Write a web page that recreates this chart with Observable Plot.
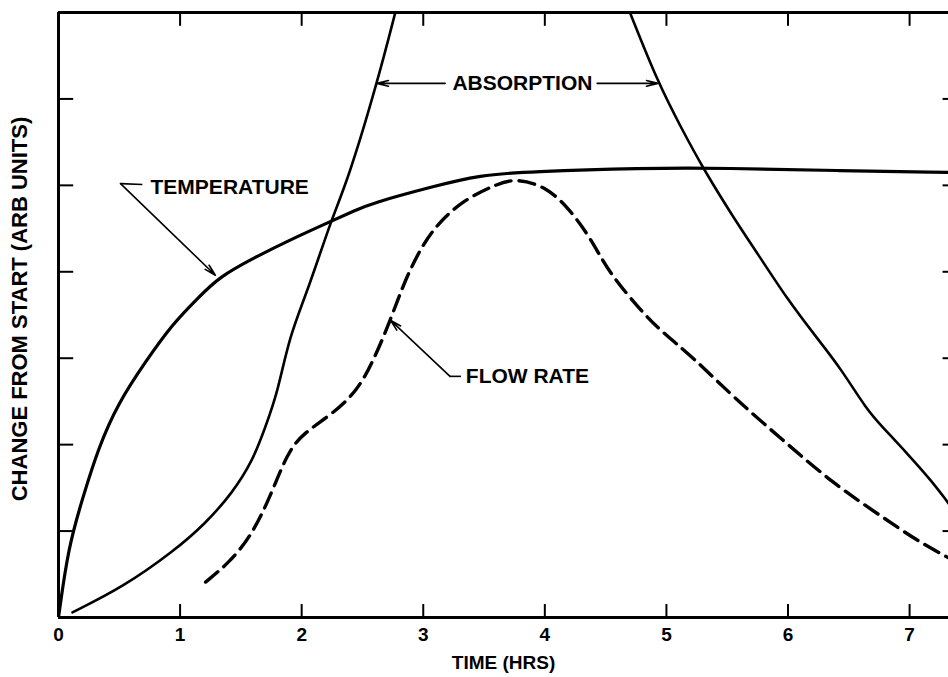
<!DOCTYPE html>
<html>
<head>
<meta charset="utf-8">
<script src="https://cdn.jsdelivr.net/npm/d3@7"></script>
<script src="https://cdn.jsdelivr.net/npm/@observablehq/plot@0.6"></script>
<style>
  html, body { margin: 0; padding: 0; background: #fff; }
  #chart svg { display: block; }
</style>
</head>
<body>
<div id="chart"></div>
<script>
// ---- data ----
const xTicks = [0, 1, 2, 3, 4, 5, 6, 7];
const yTicks = [1, 2, 3, 4, 5, 6];

const tempX = [0, 0.08, 0.20, 0.33, 0.49, 0.72, 0.94, 1.15, 1.32, 1.62, 1.89, 2.25, 2.44, 2.57, 3.06, 3.47, 3.88, 4.79, 5.5, 6.4, 7.32];
const tempY = [0, 0.81, 1.39, 1.97, 2.48, 2.97, 3.40, 3.70, 3.94, 4.17, 4.36, 4.59, 4.71, 4.79, 4.98, 5.12, 5.16, 5.20, 5.20, 5.17, 5.15];

const absRiseX = [0.115, 0.53, 0.96, 1.21, 1.43, 1.60, 1.70, 1.80, 1.90, 2.05, 2.25, 2.38, 2.62, 2.77];
const absRiseY = [0.06, 0.35, 0.78, 1.09, 1.44, 1.82, 2.20, 2.59, 3.26, 3.78, 4.63, 5.06, 6.18, 7.0];

const absFallX = [4.70, 4.93, 5.12, 5.30, 5.55, 5.75, 6.00, 6.24, 6.43, 6.65, 6.78, 6.98, 7.20, 7.32];
const absFallY = [7.0, 6.19, 5.67, 5.20, 4.63, 4.21, 3.67, 3.23, 2.89, 2.40, 2.20, 1.90, 1.55, 1.32];

const flowX = [1.21, 1.40, 1.58, 1.74, 1.88, 2.01, 2.26, 2.46, 2.59, 2.73, 2.84, 2.98, 3.12, 3.33, 3.61, 3.77, 4.02, 4.21, 4.35, 4.46, 4.56, 4.79, 4.95, 5.22, 5.55, 5.96, 6.37, 6.78, 7.06, 7.32];
const flowY = [0.41, 0.63, 0.93, 1.39, 1.90, 2.13, 2.36, 2.63, 2.97, 3.44, 3.87, 4.28, 4.56, 4.83, 5.02, 5.08, 4.98, 4.71, 4.44, 4.17, 3.94, 3.55, 3.32, 3.01, 2.55, 2.05, 1.55, 1.16, 0.89, 0.69];

const labelText = ["TEMPERATURE", "ABSORPTION", "FLOW RATE"];
const labelX = [0.757, 3.24, 3.35];
const labelY = [4.98, 6.18, 2.79];

// leader segments without heads
const leadX1 = [0.69, 3.31];
const leadY1 = [5.01, 2.79];
const leadX2 = [0.51, 3.22];
const leadY2 = [5.02, 2.79];

// arrows (head at x2,y2)
const arrX1 = [0.51, 3.18, 4.43, 3.22];
const arrY1 = [5.02, 6.18, 6.18, 2.79];
const arrX2 = [1.29, 2.62, 4.93, 2.73];
const arrY2 = [3.96, 6.18, 6.18, 3.44];

const xLabel = "TIME (HRS)";
const yLabel = "CHANGE FROM START (ARB UNITS)";

// ---- build tables ----
const zipXY = (xs, ys) => xs.map((x, i) => ({x, y: ys[i]}));
const temperature = zipXY(tempX, tempY);
const absRise = zipXY(absRiseX, absRiseY);
const absFall = zipXY(absFallX, absFallY);
const flow = zipXY(flowX, flowY);
const labels = labelText.map((t, i) => ({t, x: labelX[i], y: labelY[i]}));
const leads = leadX1.map((x1, i) => ({x1, y1: leadY1[i], x2: leadX2[i], y2: leadY2[i]}));
const arrows = arrX1.map((x1, i) => ({x1, y1: arrY1[i], x2: arrX2[i], y2: arrY2[i]}));

const font = "'Liberation Sans', Arial, Helvetica, sans-serif";

const chart = Plot.plot({
  width: 948,
  height: 677,
  marginLeft: 58,
  marginRight: 0,
  marginTop: 12,
  marginBottom: 60,
  style: {fontFamily: font, fontWeight: "bold", fontSize: "19px", color: "black", background: "white"},
  x: {domain: [0, 7.32], axis: null},
  y: {domain: [0, 7], axis: null},
  marks: [
    // frame lines
    Plot.ruleY([0, 7], {stroke: "black", strokeWidth: 3}),
    Plot.ruleX([0], {stroke: "black", strokeWidth: 3}),
    // inward ticks
    Plot.ruleX(xTicks, {y1: 0, y2: 0.15, stroke: "black", strokeWidth: 2}),
    Plot.ruleX(xTicks, {y1: 7, y2: 6.84, stroke: "black", strokeWidth: 2}),
    Plot.ruleY(yTicks, {x1: 0, x2: 0.125, stroke: "black", strokeWidth: 2}),
    Plot.ruleY(yTicks, {x1: 7.32, x2: 7.275, stroke: "black", strokeWidth: 2}),
    // tick labels
    Plot.axisX({ticks: xTicks, tickSize: 0, tickPadding: 10, tickFormat: d => String(d), label: null,
      fontSize: 19, fontWeight: "bold"}),
    // curves
    Plot.line(temperature, {x: "x", y: "y", curve: "basis", stroke: "black", strokeWidth: 3.2, clip: true}),
    Plot.line(absRise, {x: "x", y: "y", curve: "basis", stroke: "black", strokeWidth: 2.6, clip: true}),
    Plot.line(absFall, {x: "x", y: "y", curve: "basis", stroke: "black", strokeWidth: 2.6, clip: true}),
    Plot.line(flow, {x: "x", y: "y", curve: "basis", stroke: "black", strokeWidth: 3.4,
      strokeDasharray: "16,8", clip: true}),
    // annotations
    Plot.link(leads, {x1: "x1", y1: "y1", x2: "x2", y2: "y2", stroke: "black", strokeWidth: 1.6}),
    Plot.arrow(arrows, {x1: "x1", y1: "y1", x2: "x2", y2: "y2", stroke: "black", strokeWidth: 1.6,
      headLength: 11, headAngle: 28}),
    Plot.text(labels, {x: "x", y: "y", text: "t", textAnchor: "start", fontSize: 21, fontWeight: "bold",
      fill: "black", lineAnchor: "middle"}),
    // axis titles
    Plot.text([xLabel], {frameAnchor: "bottom", dy: 45, lineAnchor: "middle", fontSize: 19, fontWeight: "bold", fill: "black"}),
    Plot.text([yLabel], {frameAnchor: "left", dx: -39, dy: -6, rotate: -90, textAnchor: "middle", lineAnchor: "middle", fontSize: 22, fontWeight: "bold", fill: "black"})
  ]
});

document.getElementById("chart").appendChild(chart);
</script>
</body>
</html>
